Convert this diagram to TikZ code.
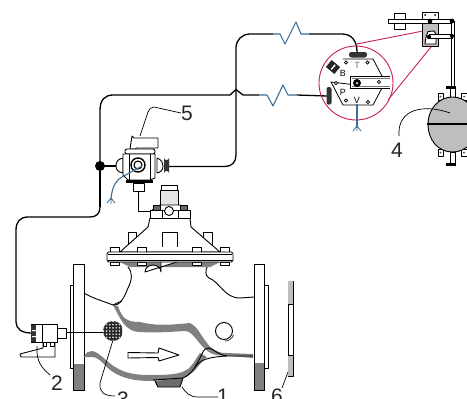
\documentclass[tikz,border=0pt]{standalone}
\usepackage{fontspec}
\setmainfont{Liberation Sans}
\definecolor{pipeblue}{HTML}{3E6E96}
\definecolor{crim}{HTML}{C8204F}
\definecolor{band}{HTML}{808080}
\definecolor{floatg}{HTML}{BEBEBE}
\tikzset{
 pipe/.style={draw=black,line width=1.3pt,line join=round},
 vent/.style={draw=pipeblue,line width=1.1pt,line join=round},
 outl/.style={draw=black,line width=0.9pt,line join=round},
 thin line/.style={draw=black,line width=0.7pt},
 lead/.style={draw=black,line width=0.7pt},
 numlabel/.style={font=\fontsize{21}{21}\selectfont,inner sep=0pt,text=black!85},
 zoomline/.style={draw=crim,line width=0.9pt},
 grey part/.style={fill=band,draw=none},
 plug/.style={fill=black!80,draw=none},
 bolt/.style={outl,fill=white,line width=0.7pt},
 port/.style={draw=black,line width=0.6pt,fill=white},
 letter/.style={font=\fontsize{9}{9}\selectfont,inner sep=0pt},
}
\begin{document}
\begin{tikzpicture}[x=1pt,y=-1pt]
\useasboundingbox (0,0) rectangle (467,399);
\fill[white] (0,0) rectangle (467,399);

% ---- flanges
\draw[outl,fill=white] (70.5,285) rectangle (73.5,368);
\draw[outl,fill=white] (73.5,264) rectangle (84,390);
\fill[band] (73.5,364) rectangle (84,390);
\draw[outl] (73.5,264) rectangle (84,390);
\draw[outl,fill=white] (264,285) rectangle (268,368);
\draw[outl,fill=white] (254,264) rectangle (264,390);
\fill[band] (254,363) rectangle (264,390);
\draw[outl] (254,264) rectangle (264,390);

% ---- plate 6
\draw[outl,fill=white,line width=.6pt] (288,281) rectangle (293,376);
\fill[floatg] (288.4,281.4) rectangle (292.6,304);
\fill[floatg] (288.4,355) rectangle (292.6,375.6);
\draw[thin line] (288,304) -- (293,304) (288,355) -- (293,355);

% ---- grey seat bands
\fill[band] (118,306) .. controls (122,318) and (126,322) .. (140,322)
  .. controls (155,326) and (170,325) .. (190,323)
  .. controls (198,327) and (201,336) .. (207,343)
  .. controls (212,350) and (218,353) .. (226,353) -- (253,354) -- (253,358) -- (217,355)
  .. controls (208,354) and (202,346) .. (197,340)
  .. controls (192,334) and (190,331) .. (184,331)
  .. controls (170,332) and (155,333) .. (140,332)
  .. controls (125,332) and (120,318) .. (113,305) -- cycle;
\fill[band] (84,357) .. controls (86,352) and (89,351) .. (92,351)
  .. controls (100,352) and (108,364) .. (117,368)
  .. controls (125,373) and (135,375) .. (150,375)
  .. controls (165,375) and (180,375) .. (188,369)
  .. controls (194,364) and (196,358) .. (200,353)
  -- (207,357) .. controls (201,361) and (199,367) .. (193,372)
  .. controls (188,376) and (184,379) .. (178,379)
  -- (150,381) .. controls (135,381) and (122,378) .. (113,372)
  .. controls (105,367) and (100,357) .. (92,357) -- cycle;
% ---- drain boss
\draw[outl,fill=band!85!black] (155,381) -- (158,387) -- (180,387) -- (183,378);

% ---- body outlines
\draw[outl] (84,293) .. controls (92,298) and (100,300) .. (113,305)
  .. controls (120,306) and (124,298) .. (128,288)
  .. controls (132,280) and (133,273) .. (128,267);
\draw[outl] (113,305) .. controls (116,303) and (120,302) .. (122,301);
\draw[outl] (208,265) .. controls (205,270) and (205,276) .. (209,278)
  .. controls (220,282) and (224,298) .. (240,298) -- (254,297);
\draw[outl] (202,354) .. controls (204,349) and (206,348) .. (209,348)
  .. controls (214,349) and (218,355) .. (227,356) -- (253,356);
\draw[outl] (195,367) .. controls (200,360) and (208,357) .. (227,356);
\draw[outl] (153,380) -- (183,378) .. controls (188,376) and (192,372) .. (195,367)
  .. controls (198,362) and (200,358) .. (202,354);
\draw[outl] (224,331) circle (8.5);
\draw[outl,black!70] (225,341) arc (90:20:9);

% ---- flow arrow
\draw[outl,fill=white] (128,352.5) -- (158,353) -- (159,348) -- (179,355) -- (159,361) -- (158,357.5) -- (128,358) -- cycle;

% ---- actuator
\fill[band] (120,262) -- (130,267) -- (210,267) -- (220,262) -- cycle;
\draw[outl,fill=white] (161,262) -- (161,272) arc (180:0:-8 and -7) -- (177,262);
\draw[outl,fill=white] (128,232) rectangle (136,246);
\draw[outl,fill=white] (203,232) rectangle (212,246);
\draw[outl,fill=white] (150,218) -- (148,227) -- (120,252) -- (220,252) -- (191,227) -- (190,218) -- cycle;
\draw[outl] (162,247) -- (162,232) -- (177,232) -- (177,247);
\foreach \a in {110,137,192,220}{
  \draw[bolt] (\a,247) rectangle ++(9,5);
  \draw[bolt] (\a,262) rectangle ++(9,3.5);
}
\draw[outl,fill=white,rounded corners=1.5pt] (107,252) rectangle (233,262);
\draw[thin line,line width=1pt] (108,254) -- (232,254);
\draw[thin line] (108,260) -- (232,260);
\draw[outl,fill=floatg!40] (160,190) rectangle (178,205);
\draw[outl,fill=white] (161,185) rectangle (177,190);
\draw[outl,fill=white] (150,210) rectangle (190,218);
\draw[outl,fill=white] (152,210) -- (160,205) -- (180,205) -- (188,210);
\draw[outl,fill=black!60] (153,205) -- (160,205) -- (160,210) -- (153,210) -- cycle;
\draw[outl,fill=black!60] (180,205) -- (187,205) -- (187,210) -- (180,210) -- cycle;
\draw[thin line] (162,210) -- (162,218) (178,210) -- (178,218);
\draw[outl,fill=white] (169,211) circle (4.5);

% ---- named points of the pipework
\coordinate (j) at (100,166);
\coordinate (vl) at (116,166);
\coordinate (pT) at (357,52);
\coordinate (pP) at (327,96);
\coordinate (pR) at (169,166.5);

% ---- pipes
\path[pipe] (j) -- (vl);
\path[pipe] (100,207) .. controls (100,214) and (96,217) .. (90,217) -- (28,217)
  .. controls (20,217) and (16,222) .. (16,230) -- (16,322)
  .. controls (16,329) and (22,333) .. (31,333);
\path[pipe] (j) -- (100,110) .. controls (100,100) and (105,95) .. (113,95) -- (230,95) -- (236,89.5) -- (243,95) -- (259,95);
\path[pipe] (j) -- (100,207);
\path[pipe] (297,95) -- (pP);
\path[pipe] (pR) -- (225,166.5) .. controls (232,166.5) and (236,162) .. (236,155) -- (236,48)
  .. controls (236,40) and (242,34) .. (250,34) -- (273,34);
\path[pipe] (309,34) -- (342,34) .. controls (351,34) and (357,40) .. (pT);
\path[vent] (259,95) -- (267,95) -- (273,106) -- (283,85) -- (288,95) -- (297,95);
\path[vent] (273,34) -- (280,34) -- (285,44) -- (296,22) -- (301,34) -- (309,34);
\path[pipe,line width=1pt] (138,191) -- (138,211) -- (150,211);
\fill[black] (j) circle (5);

% ---- pilot valve 5
\draw[outl,fill=white] (132,136) -- (130,149) -- (136,149) -- (136,148) -- (158,148) -- (158,138) -- (134,138) -- cycle;
\draw[outl,fill=white] (123,158) .. controls (117,159) and (116,163) .. (116,166) .. controls (116,170) and (118,172) .. (123,173) -- cycle;
\draw[outl,fill=white] (157,158) .. controls (162,160) and (163,163) .. (163,166) .. controls (163,170) and (161,172) .. (157,173) -- cycle;
\draw[outl,fill=white,rounded corners=2pt] (125,149) rectangle (155,154);
\draw[outl,fill=white] (123,154) -- (155,154) -- (155,178) -- (150,180) -- (128,180) -- (123,175) -- cycle;
\draw[thin line] (129,154) -- (129,180) (150,154) -- (150,180);
\fill[black] (126,180) rectangle (153,183);
\draw[outl,fill=white] (133,183) rectangle (144,191);
\draw[black,line width=1.4pt,fill=white] (138,165) circle (7);
\draw[black,line width=1.1pt,fill=white] (138,165) circle (4);
\fill[plug] (164,158) -- (164,173) arc (180:360:2.5 and 2) -- (169,158) arc (0:180:2.5 and 2) -- cycle;
\path[vent] (142,166) -- (122,177) .. controls (115,181) and (112,188) .. (111,199);
\path[vent,line width=.8pt] (107,203) -- (111,198) -- (115,203) (111,198) -- (111,204);

% ---- leader 5 and label
\node[numlabel] (n5) at (187,113) {5};
\path[lead] (140,136) -- (148,112) .. controls (149,109) and (151,107) .. (154,107) -- (n5.west);

% ---- strainer
\begin{scope}
\clip (113,331) circle (10);
\fill[black!85] (103,321) rectangle (123,341);
\foreach \i in {-3,...,3}{\foreach \k in {-3,...,3}{
  \fill[white!85!black] (113+\i*3.2,331+\k*3.2) circle (0.95);
}}
\end{scope}

% ---- angle valve 2
\draw[outl,fill=white] (43,340) -- (43,348) -- (20,354) -- (21,357) -- (55,357) -- (55,342) -- cycle;
\draw[outl,fill=white] (43,340) rectangle (46,346);
\draw[outl,fill=white] (50,340) rectangle (54,346);
\draw[outl,fill=white] (31,324) rectangle (57,342);
\fill[black!80] (31,325) rectangle (36,342);
\fill[white] (32,330) rectangle (36,331) (32,336) rectangle (36,337);
\draw[thin line] (42,324) -- (42,342);
\draw[outl,fill=white] (57,328) rectangle (66,338);
\path[pipe,line width=1pt] (66,332) -- (103,332);

% ---- leaders 1, 2, 3, 6 and labels
\node[numlabel] (n2) at (57,383) {2};
\node[numlabel] (n3) at (123,399) {3};
\node[numlabel] (n1) at (223,396) {1};
\node[numlabel] (n6) at (277,396) {6};
\path[lead] (37,346) .. controls (36,362) and (42,368) .. (50,375);
\path[lead] (113,340) -- (100,383) .. controls (99,392) and (104,396) .. (115,396);
\path[lead] (182,387) .. controls (186,393) and (190,397) .. (198,397) -- (218,397);
\path[lead] (288,372) -- (282,388);

% ---- enlarged detail
\draw[zoomline] (357,44) -- (428,30);
\draw[zoomline] (388,100) -- (435,42);
\draw[zoomline] (356,83) circle (37);
\draw[outl,line width=.8pt] (343,59) -- (373,59) -- (382,76) (382,88) -- (373,105) -- (343,105) -- (331,82) -- cycle;
\draw[thin line,line width=1pt,fill=white] (390,76) -- (350,76) -- (350,88) -- (390,88);
\draw[draw=black!55,line width=.7pt] (352,78) -- (390,78) (352,86) -- (390,86);
\foreach \a/\b in {346/62.5,367.5/62.5,336/83,346/100.5,368/102,379/82}{
  \draw[port] (\a,\b) circle (1.6);
}
\fill[black] (357,83) circle (4);
\fill[white!70!black] (357,83) circle (1.5);
\node[letter,text=black!55] (tT) at (357,65) {T};
\node[letter] (tB) at (343,73.5) {B};
\node[letter] (tP) at (343,92) {P};
\node[letter] (tV) at (357,100) {V};
\fill[black!85,rotate around={-40:(333,67)}] (327.5,62.5) rectangle (338.5,71.5);
\fill[white,rotate around={-40:(333,67)}] (332.5,64) rectangle (334,70);
\fill[plug,rounded corners=2.4pt] (349,52) rectangle (367,57.5);
\fill[plug,rounded corners=2pt] (326.5,87) rectangle (331.5,104.5);
\path[vent] (357,104) -- (357,127);
\path[vent,line width=.8pt] (353,131) -- (357,126) -- (361,131) (357,126) -- (357,131);
\path[pipe,line width=1pt] (pT) -- (357,53);

% ---- lever and float (4)
\draw[outl,line width=1pt,fill=white] (394,13) rectangle (405,29);
\draw[outl,fill=white] (422,12) rectangle (438,23);
\draw[outl,fill=floatg] (422,23) rectangle (438,46);
\draw[thin line,fill=white] (388,19) rectangle (452,23);
\draw[thin line,fill=white] (451,21) rectangle (454.5,88);
\draw[outl,fill=white] (426,37) -- (428,31.5) -- (434,31) -- (436,34) -- (436,38) -- (436,44) -- (425,44) -- cycle;
\draw[thin line,fill=white] (429,34) rectangle (452,38);
\fill[black] (430,21) circle (2.4) (452,21) circle (2.4) (452,36) circle (2.1) (429,37) circle (2.2);
\fill[black] (425,15) circle (1) (435,15) circle (1);
\draw[outl,fill=white] (438,93) rectangle (443,100);
\draw[outl,fill=white] (438,149) rectangle (443,156);
\draw[outl,fill=white] (461,93) rectangle (467,100);
\draw[outl,fill=white] (461,149) rectangle (467,156);
\fill[black!70] (440.5,96.5) circle (1) (440.5,152.5) circle (1) (464,96.5) circle (1) (464,152.5) circle (1);
\draw[thin line,fill=white] (450,88) rectangle (455,97);
\draw[thin line,fill=white] (450,152) rectangle (455,164);
\fill[black] (446,85.5) rectangle (456,88.5);
\fill[black] (446,163) rectangle (456,166);
\draw[outl,fill=floatg] (452.5,97) .. controls (438,97) and (428,110) .. (428,124)
  .. controls (428,140) and (438,152) .. (452.5,152)
  .. controls (467,152) and (477,140) .. (477,124)
  .. controls (477,110) and (467,97) .. (452.5,97) -- cycle;
\draw[black,line width=2.6pt] (427,124) -- (478,124);
\node[numlabel] (n4) at (397,150) {4};
\path[lead] (450,113) .. controls (425,104) and (397,108) .. (399,136);
\end{tikzpicture}
\end{document}
